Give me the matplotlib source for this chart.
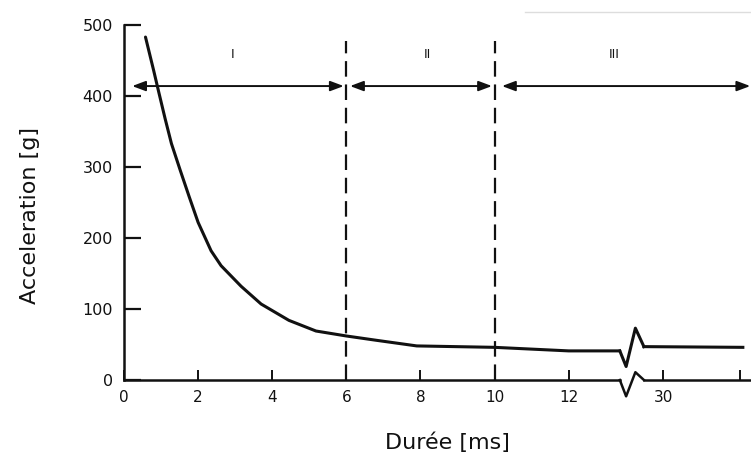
import matplotlib.pyplot as plt
from matplotlib.lines import Line2D

# values; x is in axis units (axis broken after 12 ms)
t_ms = [0.58, 0.80, 0.94, 1.11, 1.28, 1.52, 1.76, 2.00, 2.35, 2.62, 3.16, 3.70,
        4.45, 5.18, 6.00, 6.80, 7.90, 10.0, 12.0, 13.38]
accel_g = [483, 436, 405, 368, 333, 295, 258, 222, 182, 161, 132, 107,
           84, 69, 62, 56, 48, 46, 41, 41]
t_after = [14.03, 16.7]
accel_after = [47, 46]

xtick_pos = [0, 2, 4, 6, 8, 10, 12, 14.55, 16.62]
xtick_labels = ['0', '2', '4', '6', '8', '10', '12', '30', '']
yticks = [0, 100, 200, 300, 400, 500]

phase_names = ['I', 'II', 'III']
phase_start = [0.22, 6.1, 10.2]
phase_end = [5.93, 9.93, 16.9]
phase_label_x = [2.94, 8.18, 13.22]
phase_bounds = [6, 10]

brk_x = [13.38, 13.55, 13.80, 14.03]   # zigzag of the axis break
brk_curve = [0, -22, 32, 6]             # offsets added to the curve level
brk_axis = [0, -23, 11, 0]

ink = '#111111'

fig = plt.figure(figsize=(7.51, 4.57), dpi=100)
ax = fig.add_axes([124 / 751, 77 / 457, 627 / 751, 355 / 457])
ax.set_xlim(0, 16.92)
ax.set_ylim(0, 500)

# curve
ax.plot(t_ms, accel_g, color=ink, lw=2.2, solid_capstyle='round',
        solid_joinstyle='round', clip_on=False)
ax.plot(brk_x, [accel_g[-1] + d for d in brk_curve], color=ink, lw=2.2, clip_on=False)
ax.plot(t_after, accel_after, color=ink, lw=2.2, clip_on=False)

# bottom axis line with break
ax.plot([0, brk_x[0]], [0, 0], color=ink, lw=1.8, clip_on=False)
ax.plot(brk_x, brk_axis, color=ink, lw=1.8, clip_on=False)
ax.plot([brk_x[-1], 16.92], [0, 0], color=ink, lw=1.8, clip_on=False)

# phase boundaries
ax.vlines(phase_bounds, 0, 477, colors=ink, lw=1.6, linestyles=(0, (7, 3.5)))

# phase arrows
for name, x0, x1, xl in zip(phase_names, phase_start, phase_end, phase_label_x):
    ax.annotate('', xy=(x1, 414), xytext=(x0, 414),
                arrowprops=dict(arrowstyle='<|-|>,head_length=0.8,head_width=0.3',
                                color=ink, lw=1.4, shrinkA=0, shrinkB=0),
                annotation_clip=False)
    ax.text(xl, 458, name, ha='center', va='center', fontsize=9, color=ink)

for s in ['top', 'right', 'bottom']:
    ax.spines[s].set_visible(False)
ax.spines['left'].set_linewidth(1.8)
ax.spines['left'].set_color(ink)

ax.set_yticks(yticks)
ax.set_yticklabels([str(v) for v in yticks], fontsize=11.5, color=ink)
ax.tick_params(axis='y', direction='in', length=12, width=1.6, pad=8, colors=ink)
ax.set_xticks(xtick_pos)
ax.set_xticklabels(xtick_labels, fontsize=11, color=ink)
ax.tick_params(axis='x', direction='in', length=7, width=1.4, pad=7, colors=ink)

fig.text(447 / 751, 1 - 443 / 457, 'Durée [ms]', ha='center', va='center',
         fontsize=16, color=ink)
fig.text(30 / 751, 1 - 216 / 457, 'Acceleration [g]', ha='center', va='center',
         rotation=90, fontsize=16, color=ink)

# faint scan artefact at the top right
fig.add_artist(Line2D([525 / 751, 1], [1 - 12 / 457] * 2, color='#dddddd', lw=1))

fig.savefig('out.png', dpi=100)
